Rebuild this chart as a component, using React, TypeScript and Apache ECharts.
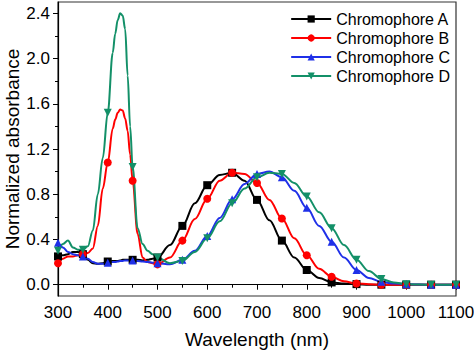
import React, { useEffect, useRef } from "react";
import * as echarts from "echarts";

const waves = [300, 310, 320, 330, 340, 350, 360, 370, 380, 390, 400, 410, 415, 420, 425, 430, 435, 440, 445, 450, 460, 470, 480, 490, 500, 525, 550, 575, 600, 625, 650, 675, 700, 725, 750, 775, 800, 825, 850, 875, 900, 925, 950, 975, 1000, 1050, 1100];

const chromA = [0.25, 0.26, 0.27, 0.29, 0.29, 0.27, 0.22, 0.19, 0.185, 0.19, 0.205, 0.21, 0.21, 0.21, 0.215, 0.22, 0.22, 0.22, 0.22, 0.22, 0.22, 0.215, 0.22, 0.23, 0.24, 0.35, 0.52, 0.72, 0.88, 0.97, 0.99, 0.92, 0.75, 0.57, 0.39, 0.24, 0.13, 0.06, 0.02, 0.01, 0.005, 0.0, 0.0, 0.0, 0.0, 0.0, 0.0];
const chromB = [0.19, 0.23, 0.25, 0.25, 0.26, 0.27, 0.28, 0.32, 0.52, 0.85, 1.08, 1.38, 1.46, 1.52, 1.55, 1.54, 1.47, 1.36, 1.15, 0.92, 0.45, 0.24, 0.2, 0.19, 0.18, 0.24, 0.39, 0.58, 0.76, 0.92, 0.99, 0.98, 0.9, 0.75, 0.585, 0.41, 0.26, 0.14, 0.07, 0.03, 0.01, 0.005, 0.0, 0.0, 0.0, 0.0, 0.0];
const chromC = [0.37, 0.33, 0.29, 0.27, 0.26, 0.25, 0.23, 0.2, 0.185, 0.185, 0.195, 0.2, 0.2, 0.205, 0.21, 0.21, 0.215, 0.215, 0.215, 0.215, 0.21, 0.205, 0.2, 0.195, 0.19, 0.18, 0.22, 0.3, 0.43, 0.59, 0.755, 0.89, 0.98, 1.0, 0.95, 0.83, 0.68, 0.52, 0.38, 0.24, 0.13, 0.06, 0.025, 0.01, 0.005, 0.0, 0.0];
const chromD = [0.3, 0.36, 0.39, 0.33, 0.31, 0.31, 0.34, 0.48, 0.8, 1.12, 1.52, 2.05, 2.22, 2.34, 2.4, 2.38, 2.26, 1.85, 1.4, 1.04, 0.5, 0.36, 0.3, 0.27, 0.24, 0.19, 0.21, 0.29, 0.41, 0.56, 0.72, 0.85, 0.95, 0.99, 0.98, 0.9, 0.78, 0.64, 0.5, 0.35, 0.22, 0.12, 0.05, 0.02, 0.005, 0.0, 0.0];

const seriesNames = ["Chromophore A", "Chromophore B", "Chromophore C", "Chromophore D"];
const seriesColors = ["#000000", "#ff0000", "#1f30e8", "#139068"];
const seriesSymbols = ["rect", "circle", "triangle", "path://M0,0 L10,0 L5,9 Z"];

const yMajorTicks = [0, 0.4, 0.8, 1.2, 1.6, 2.0, 2.4];
const yMinorTicks = [0.2, 0.6, 1.0, 1.4, 1.8, 2.2];

const FONT = "Liberation Sans, Arial, sans-serif";

export default function App() {
  const ref = useRef<HTMLDivElement>(null);
  useEffect(() => {
    if (!ref.current) return;
    const chart = echarts.init(ref.current, undefined, { renderer: "svg" });
    const allValues = [chromA, chromB, chromC, chromD];
    const series = allValues.map((vals, si) => ({
      name: seriesNames[si],
      type: "line",
      smooth: 0.35,
      smoothMonotone: "x",
      showAllSymbol: true,
      symbol: seriesSymbols[si],
      symbolSize: 8,
      lineStyle: { width: 2, color: seriesColors[si] },
      itemStyle: { color: seriesColors[si] },
      data: waves.map((w, i) =>
        w % 50 === 0 ? { value: [w, vals[i]] } : { value: [w, vals[i]], symbol: "none" }
      ),
    }));
    chart.setOption({
      animation: false,
      backgroundColor: "#ffffff",
      grid: {
        left: 58,
        right: 18,
        top: 2,
        bottom: 57,
        containLabel: false,
        outerBoundsMode: "none",
        show: true,
        borderColor: "#333",
        borderWidth: 1.2,
        backgroundColor: "transparent",
      },
      legend: {
        orient: "vertical",
        right: 19,
        top: 6,
        itemWidth: 40,
        itemHeight: 9,
        itemGap: 3,
        data: seriesNames,
        textStyle: { fontFamily: FONT, fontSize: 16, color: "#000", lineHeight: 16 },
      },
      xAxis: {
        type: "value",
        min: 300,
        max: 1100,
        interval: 100,
        name: "Wavelength (nm)",
        nameLocation: "middle",
        nameGap: 34,
        nameMoveOverlap: false,
        nameTextStyle: { fontFamily: FONT, fontSize: 19, color: "#000" },
        axisLine: { show: true, lineStyle: { color: "#000", width: 1.2 } },
        axisTick: { show: true, length: 5, lineStyle: { color: "#000" } },
        minorTick: { show: true, splitNumber: 2, length: 3, lineStyle: { color: "#000" } },
        splitLine: { show: false },
        axisLabel: {
          fontFamily: FONT,
          fontSize: 17,
          color: "#000",
          margin: 8,
          formatter: (v: number) => String(v),
        },
      },
      yAxis: [
        {
          type: "value",
          min: -0.1,
          max: 2.5,
          name: "Normalized absorbance",
          nameLocation: "middle",
          nameGap: 36,
          nameMoveOverlap: false,
          nameTextStyle: { fontFamily: FONT, fontSize: 19, color: "#000" },
          axisLine: { show: true, lineStyle: { color: "#000", width: 1.2 } },
          axisTick: { show: true, length: 5, customValues: yMajorTicks, lineStyle: { color: "#000" } },
          splitLine: { show: false },
          axisLabel: {
            fontFamily: FONT,
            fontSize: 17,
            color: "#000",
            margin: 8,
            customValues: yMajorTicks,
            formatter: (v: number) => v.toFixed(1),
          },
        },
        {
          type: "value",
          min: -0.1,
          max: 2.5,
          position: "left",
          axisLine: { show: false },
          axisTick: { show: true, length: 3, customValues: yMinorTicks, lineStyle: { color: "#000" } },
          splitLine: { show: false },
          axisLabel: { show: false },
        },
      ],
      series,
    });
    return () => chart.dispose();
  }, []);
  return <div ref={ref} style={{ width: 474, height: 353, position: "absolute", left: 0, top: 0 }} />;
}
